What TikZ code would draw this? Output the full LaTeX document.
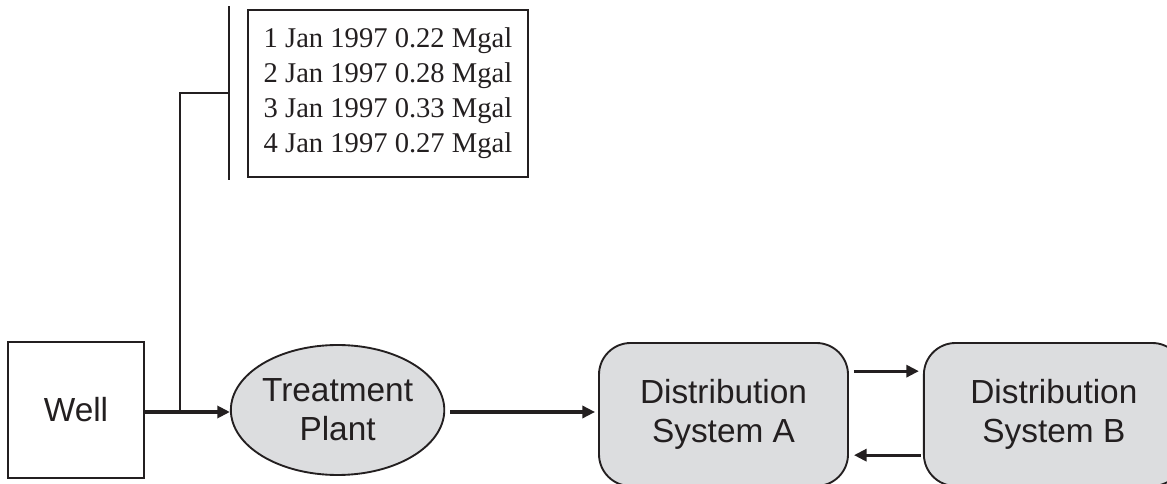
\documentclass[tikz,border=0pt]{standalone}
\usepackage{fontspec}
\setmainfont{Liberation Serif}
\setsansfont{Liberation Sans}
\usepackage{xcolor}
\usepackage{tikz}
\usetikzlibrary{arrows.meta,positioning,shapes.geometric,calc}
\definecolor{cFill}{HTML}{DCDDDF}
\definecolor{cInk}{HTML}{231F20}
\tikzset{
  unit/.style={draw=cInk,line width=1.6pt,text=cInk,font=\sffamily\fontsize{28.5}{33.3}\selectfont,align=center},
  site/.style={unit,minimum width=4.08cm,minimum height=4.08cm},
  plant/.style={unit,ellipse,fill=cFill,minimum width=5.82cm,minimum height=3.9cm,inner sep=0pt},
  dist/.style={unit,rounded corners=0.95cm,fill=cFill,minimum width=#1,minimum height=4.29cm},
  logbox/.style={draw=cInk,line width=1.6pt,text=cInk,font=\rmfamily\fontsize{24.4}{29.8}\selectfont,align=left,minimum width=8.4cm,minimum height=5.01cm},
  flow/.style={-{Triangle[length=0.38cm,width=0.36cm]},line width=2.8pt,draw=cInk},
  tap/.style={line width=1.6pt,draw=cInk}
}

\begin{document}
\begin{tikzpicture}
    \useasboundingbox (0,0) rectangle (35.01,14.52);
    \clip (0,0) rectangle (35.01,14.52);

    % Nodes
    \node[site] (well) at (2.28,2.22) {Well};
    \node[plant, right=2.55cm of well] (trt) {Treatment\\Plant};
    \node[dist=7.47cm] (dsa) at (21.705,2.085) {Distribution\\System A};
    \node[dist=7.8cm, right=2.22cm of dsa] (dsb) {Distribution\\System B};
    \node[logbox] (log) at (11.64,11.715) {1 Jan 1997 0.22 Mgal\\2 Jan 1997 0.28 Mgal\\3 Jan 1997 0.33 Mgal\\4 Jan 1997 0.27 Mgal};

    % Sampling tap
    \coordinate (junc) at (5.4,2.16);
    \coordinate (bartop) at ([xshift=-0.54cm,yshift=0.09cm]log.north west);
    \coordinate (barbot) at ([xshift=-0.54cm,yshift=-0.06cm]log.south west);
    \coordinate (barmid) at ($(bartop)!0.5!(barbot)$);

    % Paths
    \draw[flow] (well.east |- junc) -- (trt.west |- junc);
    \draw[flow,shorten <=0.15cm,shorten >=0.09cm] (trt.east |- junc) -- (dsa.west |- junc);
    \draw[flow,shorten <=0.15cm,shorten >=0.12cm] ([yshift=1.3cm]dsa.east) -- ([yshift=1.3cm]dsa.east -| dsb.west);
    \draw[flow,shorten <=0.06cm,shorten >=0.15cm] ([yshift=-1.22cm]dsb.west) -- ([yshift=-1.22cm]dsb.west -| dsa.east);
    \draw[tap] (junc) |- (barmid);
    \draw[tap] (bartop) -- (barbot);
  \end{tikzpicture}
\end{document}
